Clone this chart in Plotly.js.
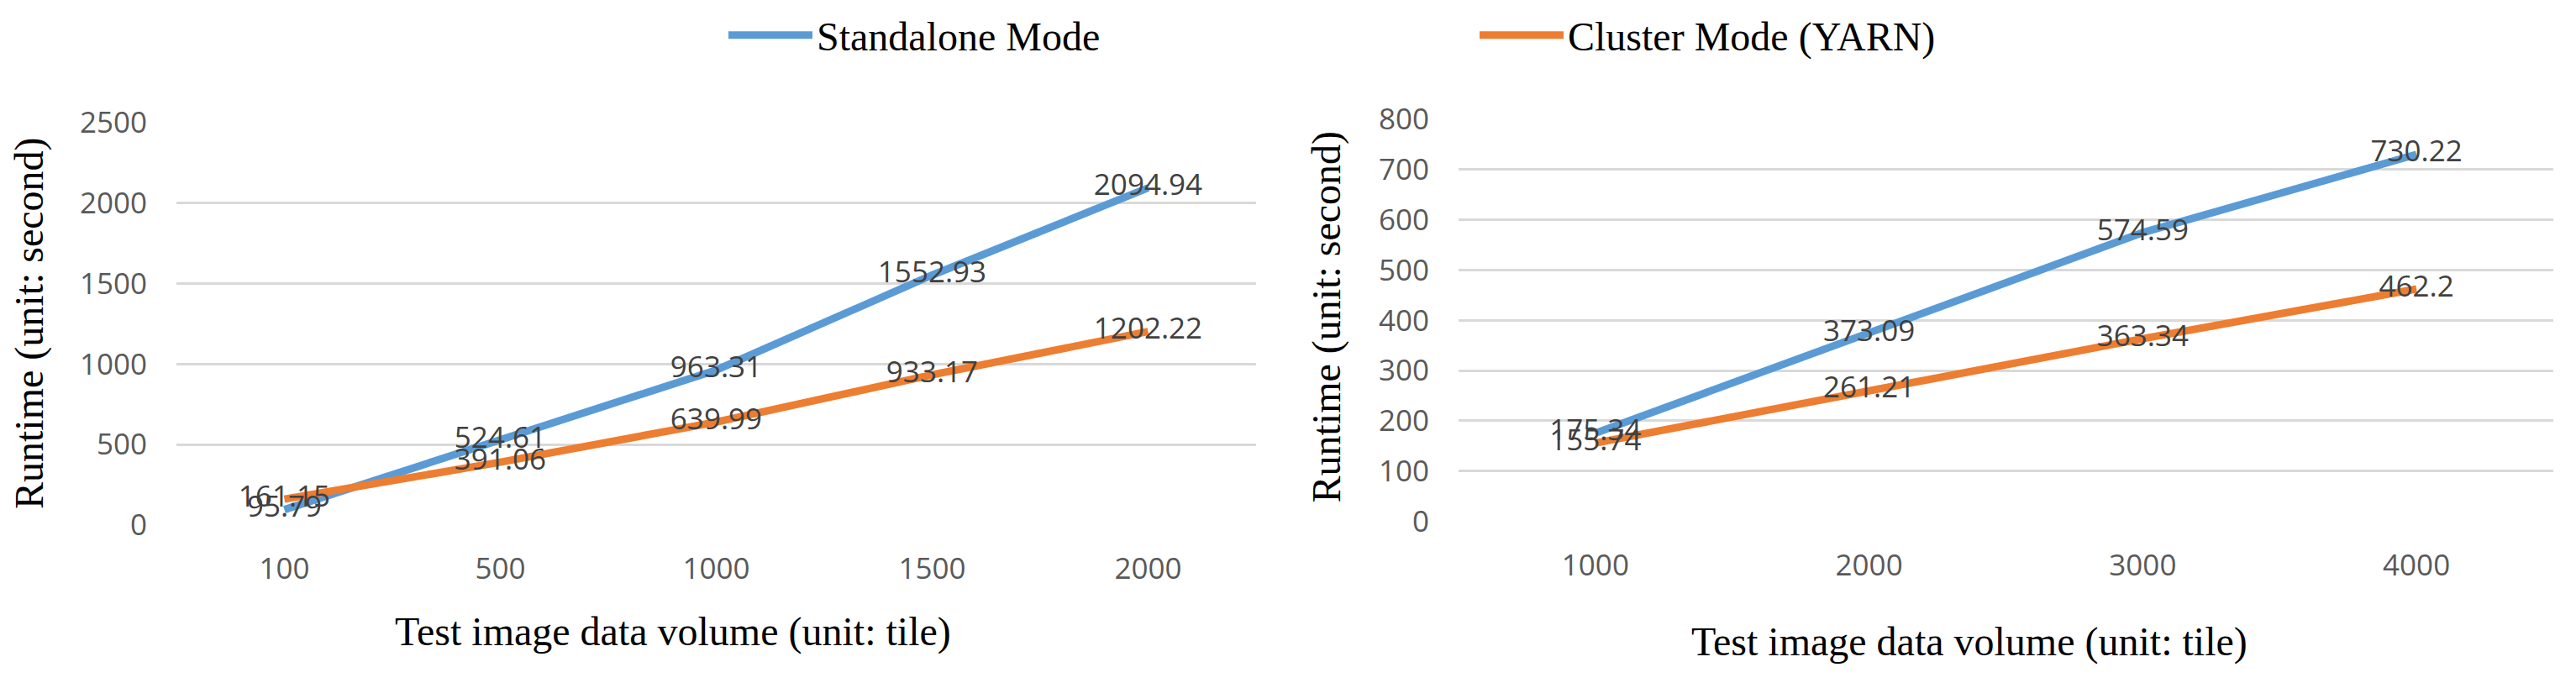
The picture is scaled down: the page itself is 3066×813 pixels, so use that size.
<!DOCTYPE html>
<html><head><meta charset="utf-8">
<script src="https://cdn.plot.ly/plotly-3.0.1.min.js"></script>
<style>html,body{margin:0;padding:0;background:#fff}</style>
</head><body><div id="chart" style="width:3066px;height:813px"></div>
<script>
const seriesNames = ['Standalone Mode', 'Cluster Mode (YARN)'];
const seriesColors = ['#5B9BD5', '#ED7D31'];

const leftCategories = ['100', '500', '1000', '1500', '2000'];
const leftStandalone = [95.79, 524.61, 963.31, 1552.93, 2094.94];
const leftCluster = [161.15, 391.06, 639.99, 933.17, 1202.22];

const rightCategories = ['1000', '2000', '3000', '4000'];
const rightStandalone = [175.34, 373.09, 574.59, 730.22];
const rightCluster = [155.74, 261.21, 363.34, 462.2];

const leftYTicks = [0, 500, 1000, 1500, 2000, 2500];
const rightYTicks = [0, 100, 200, 300, 400, 500, 600, 700, 800];

const xTitleText = 'Test image data volume (unit: tile)';
const yTitleText = 'Runtime (unit: second)';

const W = 3066, H = 813;
const serif = 'Liberation Serif, Times New Roman, serif';
const sans = 'Open Sans, Liberation Sans, sans-serif';

function lineTrace(x, y, i, xa, ya, showleg) {
  return {x: x, y: y, type: 'scatter', mode: 'lines', name: seriesNames[i],
    line: {color: seriesColors[i], width: 9}, xaxis: xa, yaxis: ya,
    showlegend: showleg, legend: i === 0 ? 'legend' : 'legend2', hoverinfo: 'skip'};
}
function textTrace(x, y, xa, ya) {
  return {x: x, y: y, type: 'scatter', mode: 'text', text: y.map(String),
    textposition: 'middle center', textfont: {family: sans, size: 35, color: '#404040'},
    xaxis: xa, yaxis: ya, showlegend: false, hoverinfo: 'skip', cliponaxis: false};
}

const data = [
  lineTrace(leftCategories, leftStandalone, 0, 'x', 'y', true),
  lineTrace(leftCategories, leftCluster, 1, 'x', 'y', true),
  lineTrace(rightCategories, rightStandalone, 0, 'x2', 'y2', false),
  lineTrace(rightCategories, rightCluster, 1, 'x2', 'y2', false),
  textTrace(leftCategories, leftStandalone, 'x', 'y'),
  textTrace(leftCategories, leftCluster, 'x', 'y'),
  textTrace(rightCategories, rightStandalone, 'x2', 'y2'),
  textTrace(rightCategories, rightCluster, 'x2', 'y2')
];

function xAxis(domain, n, anchor) {
  return {domain: domain, anchor: anchor, type: 'category', range: [-0.5, n - 0.5],
    showgrid: false, zeroline: false, showline: false, ticks: '',
    ticklabelstandoff: 28, tickfont: {family: sans, size: 35, color: '#595959'}, fixedrange: true};
}
function yAxis(domain, ticks, anchor) {
  return {domain: domain, anchor: anchor, range: [ticks[0], ticks[ticks.length - 1]],
    tickvals: ticks, ticktext: ticks.map(String), showgrid: true, gridcolor: '#D9D9D9', gridwidth: 3,
    zeroline: false, showline: false, ticks: '', ticklabelstandoff: 34,
    tickfont: {family: sans, size: 35, color: '#595959'}, fixedrange: true};
}
function legendAt(xpx) {
  return {orientation: 'h', x: xpx / W, xanchor: 'left', y: 1 - 42 / H, yanchor: 'middle',
    font: {family: serif, size: 48, color: '#000'}, itemwidth: 100,
    bgcolor: 'rgba(0,0,0,0)', borderwidth: 0};
}
function ann(text, xpx, ypx, angle) {
  return {text: text, xref: 'paper', yref: 'paper', x: xpx / W, y: 1 - ypx / H,
    xanchor: 'center', yanchor: 'middle', textangle: angle, showarrow: false,
    font: {family: serif, size: 48, color: '#000'}};
}

const layout = {
  width: W, height: H, margin: {l: 0, r: 0, t: 0, b: 0},
  paper_bgcolor: '#fff', plot_bgcolor: '#fff',
  xaxis: xAxis([210 / W, 1495 / W], leftCategories.length, 'y'),
  yaxis: yAxis([1 - 625 / H, 1 - 146 / H], leftYTicks, 'x'),
  xaxis2: xAxis([1736 / W, 3039 / W], rightCategories.length, 'y2'),
  yaxis2: yAxis([1 - 620.5 / H, 1 - 142 / H], rightYTicks, 'x2'),
  showlegend: true,
  legend: legendAt(862),
  legend2: legendAt(1756),
  annotations: [
    ann(yTitleText, 35, 385, -90),
    ann(yTitleText, 1578, 377.5, -90),
    ann(xTitleText, 801, 752, 0),
    ann(xTitleText, 2344, 764, 0)
  ]
};

Plotly.newPlot('chart', data, layout, {staticPlot: true, displayModeBar: false});
</script>
</body></html>
